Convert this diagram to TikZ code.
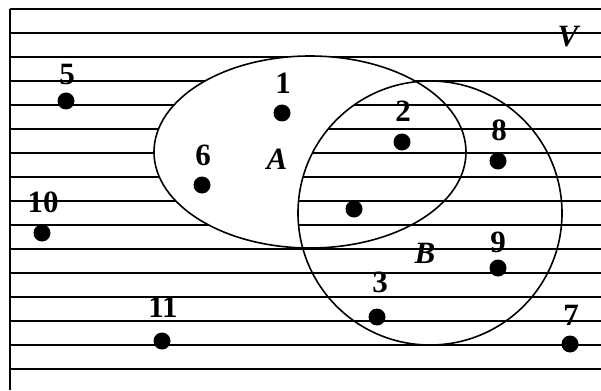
\documentclass[tikz,border=0pt]{standalone}
\usepackage{fontspec}
\setmainfont{Liberation Serif}
\begin{document}
\begin{tikzpicture}[x=1pt,y=-1pt,
  hatch/.style={line width=1.5pt},
  setline/.style={line width=1.6pt},
  dot/.style={circle,fill=black,inner sep=0pt,minimum size=17pt},
  num/.style={inner sep=0pt,font=\fontsize{31}{31}\selectfont\bfseries},
  setname/.style={inner sep=0pt,font=\fontsize{31}{31}\selectfont\bfseries\itshape}]
\useasboundingbox (0,0) rectangle (601,390);
% hatching of the whole universe
\foreach \y in {33,57,...,369} \draw[hatch] (10,\y) -- (601,\y);
% A minus B is left blank
\fill[white] (310,152) ellipse [x radius=156pt, y radius=96pt];
\begin{scope}
  \clip (310,152) ellipse [x radius=156pt, y radius=96pt];
  \clip (430,213) circle [radius=132pt];
  \foreach \y in {33,57,...,369} \draw[hatch] (10,\y) -- (601,\y);
\end{scope}
% frame
\draw[setline] (10,9) -- (601,9);
\draw[setline] (10,9) -- (10,390);
% sets
\draw[setline] (310,152) ellipse [x radius=156pt, y radius=96pt];
\draw[setline] (430,213) circle [radius=132pt];
% set names
\node[setname] (V) at (568,37) {V};
\node[setname] (A) at (277,159) {A};
\node[setname] (B) at (425,253) {B};
% elements
\node[dot] (p1) at (282,113) {};  \node[num] (l1) at (283,83) {1};
\node[dot] (p2) at (402,142) {};  \node[num] (l2) at (403,111) {2};
\node[dot] (p3) at (377,317) {};  \node[num] (l3) at (380,282) {3};
\node[dot] (p4) at (354,209) {};
\node[dot] (p5) at (66,101) {};   \node[num] (l5) at (67,75) {5};
\node[dot] (p6) at (202,185) {};  \node[num] (l6) at (203,155) {6};
\node[dot] (p7) at (570,344) {};  \node[num] (l7) at (571,315) {7};
\node[dot] (p8) at (498,161) {};  \node[num] (l8) at (499,130) {8};
\node[dot] (p9) at (498,268) {};  \node[num] (l9) at (498,242) {9};
\node[dot] (p10) at (42,233) {};  \node[num] (l10) at (43,202) {10};
\node[dot] (p11) at (162,341) {}; \node[num] (l11) at (163,307) {11};
\end{tikzpicture}
\end{document}
